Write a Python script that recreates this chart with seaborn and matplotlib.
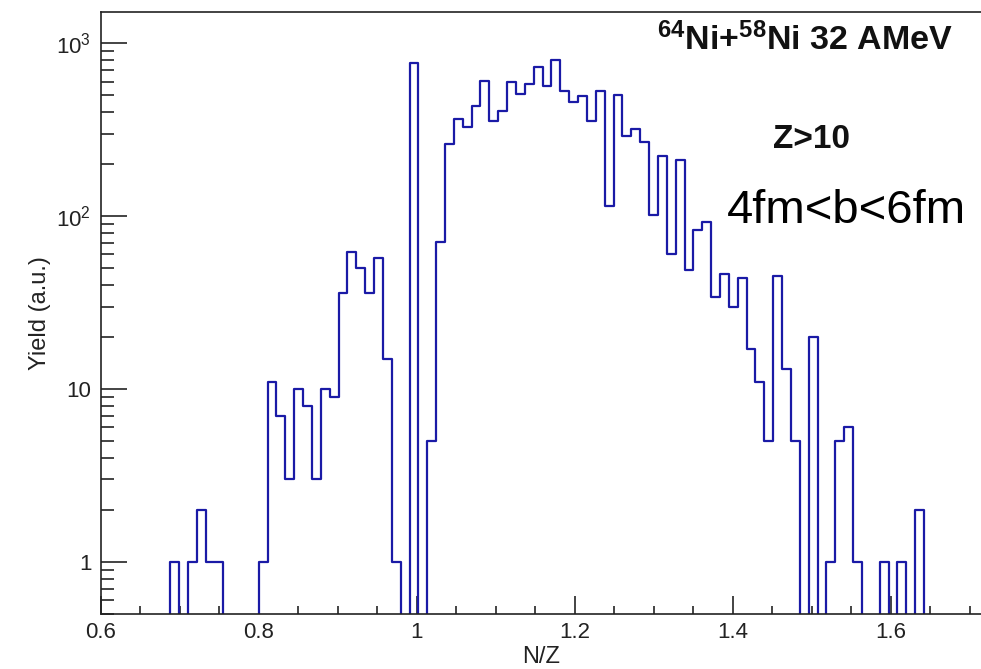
import numpy as np
import matplotlib
matplotlib.use("Agg")
import matplotlib.pyplot as plt
from matplotlib.ticker import FixedLocator, FuncFormatter, MultipleLocator
import seaborn as sns

# N/Z histogram: uniform bins starting at the first filled edge
nz_first_edge = 0.6874
nz_bin_width = 0.011233
yield_counts = [
    1, 0, 1, 2, 1, 1, 0, 0, 0, 0,
    1, 11, 7, 3, 10, 8, 3, 10, 9, 36,
    62, 50, 36, 57, 15, 1, 0, 770, 0, 5,
    71, 260, 365, 328, 432, 607, 356, 406, 598, 506,
    577, 732, 563, 798, 532, 457, 493, 356, 532, 114,
    500, 289, 318, 268, 102, 222, 60, 210, 49, 83,
    93, 34, 46, 30, 44, 17, 11, 5, 45, 13,
    5, 0, 20, 0, 1, 5, 6, 1, 0, 0,
    1, 0, 1, 0, 2,
]
x_ticks = [0.6, 0.8, 1.0, 1.2, 1.4, 1.6]
x_tick_labels = ["0.6", "0.8", "1", "1.2", "1.4", "1.6"]
y_ticks = [1, 10, 100, 1000]
y_tick_labels = ["1", "10", r"$10^{2}$", r"$10^{3}$"]

sns.set_style("ticks")
plt.rcParams["font.family"] = ["Liberation Sans", "DejaVu Sans"]
plt.rcParams["mathtext.fontset"] = "custom"
plt.rcParams["mathtext.rm"] = "Liberation Sans"
plt.rcParams["mathtext.it"] = "Liberation Sans:italic"
plt.rcParams["mathtext.bf"] = "Liberation Sans:bold"

# pad with one empty bin on each side so the outline drops to the floor
counts = np.array([0] + yield_counts + [0], dtype=float)
edges = nz_first_edge - nz_bin_width + nz_bin_width * np.arange(len(counts) + 1)
centers = 0.5 * (edges[:-1] + edges[1:])

W, H = 981, 669
fig = plt.figure(figsize=(W / 100, H / 100), dpi=100)
ax = fig.add_axes([101 / W, 55 / H, 880 / W, 602 / H])

sns.histplot(x=list(centers), weights=list(counts), bins=list(edges),
             element="step", fill=False, color="#1a1aa6", linewidth=1.6, ax=ax)

ax.set_yscale("log")
y_lo, y_hi = 0.5, 1514
ax.set_xlim(0.6, 0.6 + 880 / 789.7)
ax.set_ylim(y_lo, y_hi)

text_col = "#222222"
ax.xaxis.set_major_locator(FixedLocator(x_ticks))
ax.xaxis.set_minor_locator(MultipleLocator(0.05))
ax.set_xticklabels(x_tick_labels)
ax.yaxis.set_major_locator(FixedLocator(y_ticks))
minor_y = [m * 10.0 ** e for e in range(-1, 4) for m in range(2, 10)]
minor_y = [v for v in minor_y if y_lo <= v <= y_hi]
ax.yaxis.set_minor_locator(FixedLocator(minor_y))
ax.yaxis.set_minor_formatter(FuncFormatter(lambda v, p: ""))
ax.set_yticklabels(y_tick_labels)

ax.tick_params(axis="x", which="major", direction="in", length=13, width=1.1,
               labelsize=16, pad=6, colors="#111111", labelcolor=text_col)
ax.tick_params(axis="x", which="minor", direction="in", length=6, width=1.1,
               colors="#111111")
ax.tick_params(axis="y", which="major", direction="in", length=19, width=1.1,
               labelsize=16, pad=7, colors="#111111", labelcolor=text_col)
ax.tick_params(axis="y", which="minor", direction="in", length=9.5, width=1.1,
               colors="#111111")

for side in ["left", "bottom", "top"]:
    ax.spines[side].set_visible(True)
    ax.spines[side].set_linewidth(1.2)
    ax.spines[side].set_color("#222222")
ax.spines["right"].set_visible(False)

ax.set_xlabel("N/Z", fontsize=17, color=text_col, labelpad=2)
ax.set_ylabel("Yield (a.u.)", fontsize=17, color=text_col, labelpad=4)

fig.text(657 / W, 1 - 50 / H, r"$^{\mathbf{64}}$Ni+$^{\mathbf{58}}$Ni 32 AMeV",
         fontsize=24.5, fontweight="bold", color="#111111", ha="left", va="baseline")
fig.text(811 / W, 1 - 148 / H, "Z>10", fontsize=24, fontweight="bold",
         color="#111111", ha="center", va="baseline")
fig.text(727 / W, 1 - 223 / H, "4fm<b<6fm", fontsize=34, color="black",
         ha="left", va="baseline")

fig.savefig("out.png", dpi=100)
